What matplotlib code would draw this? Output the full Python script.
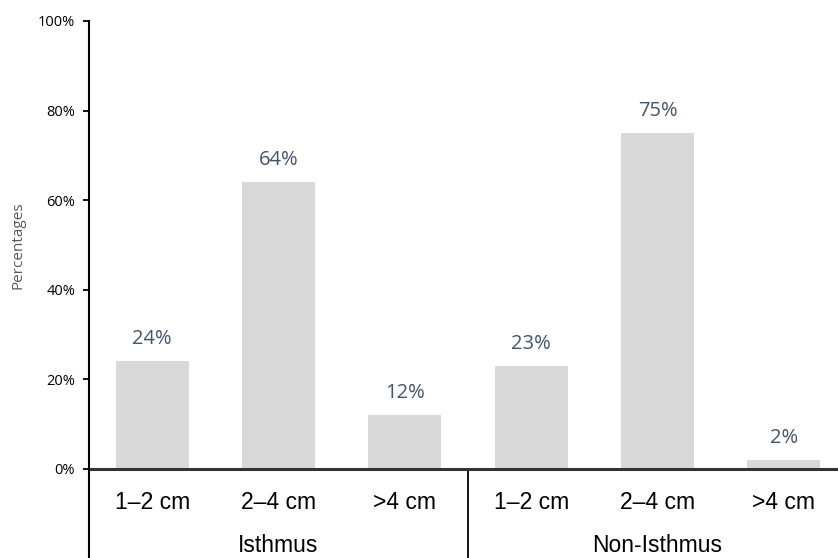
import matplotlib.pyplot as plt

# sizes of the tumours, split by location
sizes = ['1–2 cm', '2–4 cm', '>4 cm', '1–2 cm', '2–4 cm', '>4 cm']
groups = ['Isthmus', 'Non-Isthmus']
values = [24, 64, 12, 23, 75, 2]
yticks = [0, 20, 40, 60, 80, 100]

fig = plt.figure(figsize=(8.38, 5.58), dpi=100)
ax = fig.add_axes([0.1062, 0.1595, 0.9045, 0.803])

x = range(len(values))
bars = ax.bar(x, values, width=0.58, color='#D9D9D9', zorder=2)

for b, v in zip(bars, values):
    ax.text(b.get_x() + b.get_width() / 2, v + 2.7, f'{v}%',
            ha='center', va='bottom', fontsize=14.5, color='#44546A',
            family='Open Sans')

ax.set_xlim(-0.5, len(values) - 0.5)
ax.set_ylim(0, 100)
ax.set_yticks(yticks)
ax.set_yticklabels([f'{t}%' for t in yticks], fontsize=10.5, family='Open Sans')
ax.tick_params(axis='y', direction='out', length=4, width=1.3, pad=6)
ax.set_xticks([])

ax.set_ylabel('Percentages', fontsize=11, color='#595959',
              family='Open Sans', labelpad=9)

for s in ['top', 'right']:
    ax.spines[s].set_visible(False)
ax.spines['bottom'].set_linewidth(2.2)
ax.spines['bottom'].set_color('#333333')
ax.spines['left'].set_linewidth(1.5)
ax.spines['left'].set_bounds(-25, 100)
ax.spines['left'].set_zorder(3)

# category labels under the axis
for i, s in enumerate(sizes):
    ax.text(i, -4.8, s, ha='center', va='top', fontsize=16.5,
            family='Liberation Sans', color='black')
for j, g in enumerate(groups):
    ax.text(j * 3 + 1, -14.4, g, ha='center', va='top', fontsize=16.5,
            family='Liberation Sans', color='black')

# divider between the two groups
ax.plot([2.5, 2.5], [0, -25], color='black', lw=1.3, clip_on=False)

fig.savefig('out.png', dpi=100)
